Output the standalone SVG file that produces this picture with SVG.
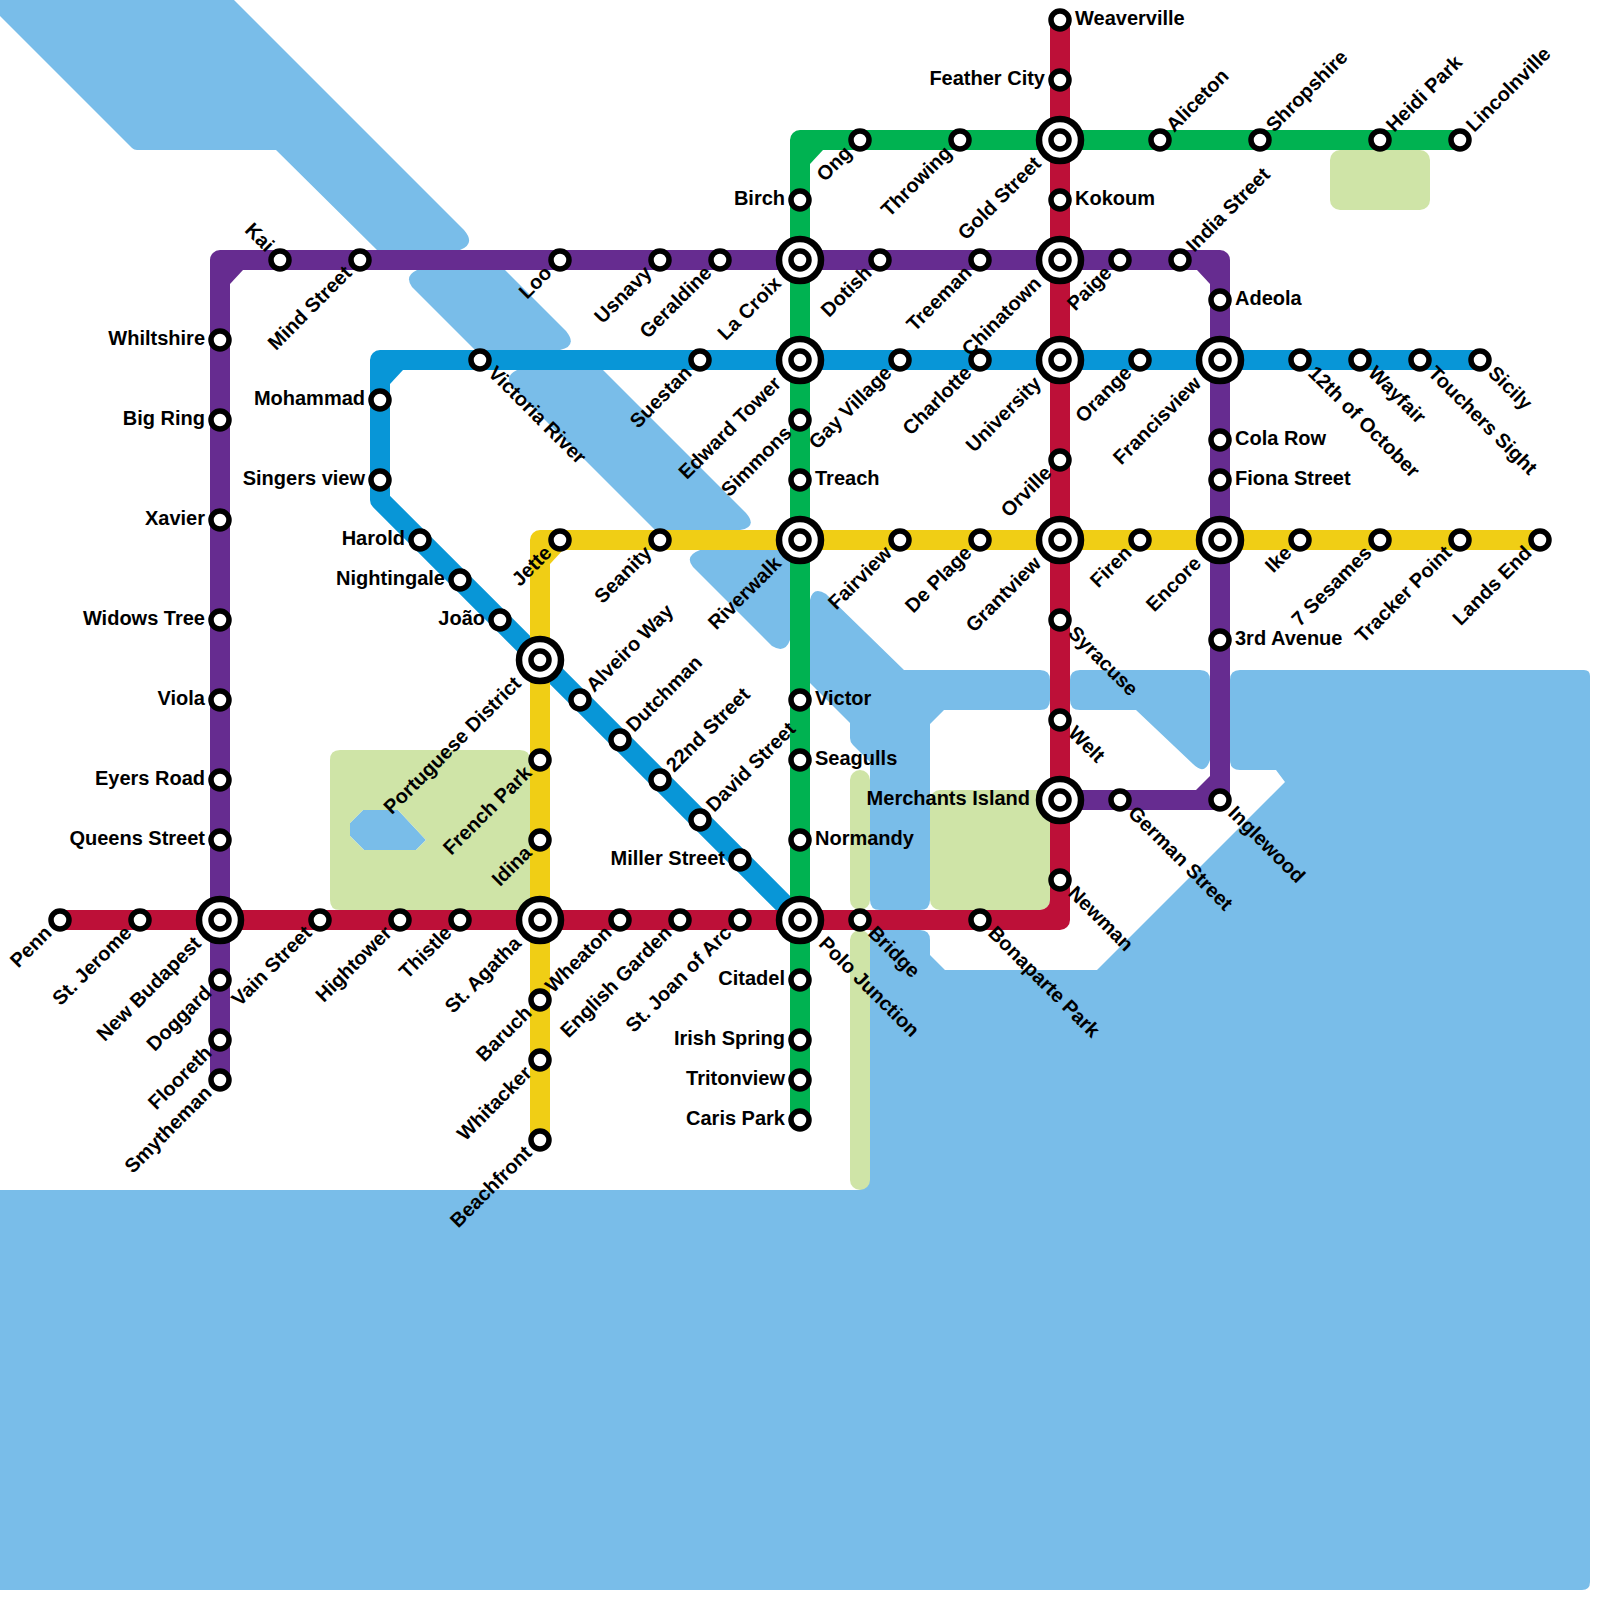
<svg xmlns="http://www.w3.org/2000/svg" width="1600" height="1600" viewBox="0 0 1600 1600">
<style>
.water{fill:#79bde9}
.park{fill:#cfe4a7}
.ln{fill:none;stroke-width:20;stroke-linejoin:round}
.s{fill:#fff;stroke:#000;stroke-width:5.5}
.i{fill:#fff;stroke:#000;stroke-width:6.5}
text{font-family:"Liberation Sans",Arial,sans-serif;font-weight:bold;font-size:20px;fill:#000}
.e{text-anchor:end}
</style>
<rect width="1600" height="1600" fill="#fff"/>
<g id="water">
<path class="water" d="M0,0 L234,0 L464,230 Q476,244 460,250 L377,250 L276,150 L137,150 Q134,150 132,148 L0,16 Z"/>
<path class="water" d="M417,270 L505,270 L566,331 Q578,346 560,350 L475,350 L412,287 Q404,276 417,270 Z"/>
<path class="water" d="M517,370 L603,370 L746,513 Q758,527 740,530 L655,530 L512,387 Q504,376 517,370 Z"/>
<path class="water" d="M700,550 L800,550 L800,650 L790,640 Q785,654 772,646 L693,567 Q684,556 700,550 Z"/>
<path class="water" d="M810,600 Q813,586 826,594 L904,670 L1040,670 Q1050,670 1050,680 L1050,700 Q1050,710 1040,710 L944,710 L930,724 L930,900 Q930,910 920,910 L880,910 Q870,910 870,900 L870,762 L853,745 Q850,742 850,738 L850,723 L810,683 Z"/>
<path class="water" d="M1080,670 L1200,670 Q1210,670 1210,680 L1210,760 Q1205,776 1193,764 L1136,710 L1080,710 Q1070,710 1070,700 L1070,680 Q1070,670 1080,670 Z"/>
<path class="water" d="M870,930 L920,930 Q930,930 930,940 L930,955 L945,970 L1097,970 L1285,782 L1276,770 L1240,770 Q1230,770 1230,760 L1230,680 Q1230,670 1240,670 L1584,670 Q1590,670 1590,676 L1590,1582 Q1590,1590 1582,1590 L0,1590 L0,1190 L860,1190 L860,1178 L870,1178 Z"/>
<path class="water" d="M363,810 L398,810 L426,840 L416,850 L364,850 L350,836 L350,823 Z"/>
</g>
<g id="parks">
<path class="park" d="M340,750 L520,750 Q530,750 530,760 L530,910 L340,910 Q330,910 330,900 L330,760 Q330,750 340,750 Z M363,810 L350,823 L350,836 L364,850 L416,850 L426,840 L398,810 Z" fill-rule="evenodd"/>
<rect class="park" x="1330" y="150" width="100" height="60" rx="10"/>
<rect class="park" x="930" y="790" width="120" height="120" rx="10"/>
<rect class="park" x="850" y="770" width="20" height="140" rx="10"/>
<rect class="park" x="850" y="930" width="20" height="260" rx="10"/>
</g>
<g id="connectors">
<path class="ln" stroke="#0896d7" d="M1480,360 L380,360 L380,500 L800,920"/>
<polygon fill="#0896d7" points="403,370 390,370 390,384"/>
<path class="ln" stroke="#00b251" d="M1460,140 L800,140 L800,1120"/>
<polygon fill="#00b251" points="823,150 810,150 810,164"/>
<path class="ln" stroke="#f0ce15" d="M1540,540 L540,540 L540,1140"/>
<polygon fill="#f0ce15" points="563,550 550,550 550,564"/>
<path class="ln" stroke="#662c90" d="M220,1080 L220,260 L1220,260 L1220,800 L1060,800"/>
<polygon fill="#662c90" points="243,270 230,270 230,284"/>
<polygon fill="#662c90" points="1197,270 1210,270 1210,284"/>
<polygon fill="#662c90" points="1196,790 1210,790 1210,776"/>
<path class="ln" stroke="#bd1038" d="M60,920 L1060,920 L1060,20"/>
<path fill="#bd1038" d="M1040,910 L1050,910 L1050,900 A10,10 0 0 1 1040,910 Z"/>
</g>
<g id="stations">
<g id="penn"><circle class="s" cx="60" cy="920" r="9"/><text class="e" x="45" y="925" transform="rotate(-45 60 920)">Penn</text></g>
<g id="st-jerome"><circle class="s" cx="140" cy="920" r="9"/><text class="e" x="125" y="925" transform="rotate(-45 140 920)">St. Jerome</text></g>
<g id="new-budapest"><circle class="i" cx="220" cy="920" r="21"/><circle class="s" cx="220" cy="920" r="9"/><text class="e" x="190" y="925" transform="rotate(-45 220 920)">New Budapest</text></g>
<g id="vain-street"><circle class="s" cx="320" cy="920" r="9"/><text class="e" x="305" y="925" transform="rotate(-45 320 920)">Vain Street</text></g>
<g id="hightower"><circle class="s" cx="400" cy="920" r="9"/><text class="e" x="385" y="925" transform="rotate(-45 400 920)">Hightower</text></g>
<g id="thistle"><circle class="s" cx="460" cy="920" r="9"/><text class="e" x="445" y="925" transform="rotate(-45 460 920)">Thistle</text></g>
<g id="st-agatha"><circle class="i" cx="540" cy="920" r="21"/><circle class="s" cx="540" cy="920" r="9"/><text class="e" x="510" y="925" transform="rotate(-45 540 920)">St. Agatha</text></g>
<g id="wheaton"><circle class="s" cx="620" cy="920" r="9"/><text class="e" x="605" y="925" transform="rotate(-45 620 920)">Wheaton</text></g>
<g id="english-garden"><circle class="s" cx="680" cy="920" r="9"/><text class="e" x="665" y="925" transform="rotate(-45 680 920)">English Garden</text></g>
<g id="st-joan"><circle class="s" cx="740" cy="920" r="9"/><text class="e" x="725" y="925" transform="rotate(-45 740 920)">St. Joan of Arc</text></g>
<g id="polo-junction"><circle class="i" cx="800" cy="920" r="21"/><circle class="s" cx="800" cy="920" r="9"/><text x="830" y="925" transform="rotate(45 800 920)">Polo Junction</text></g>
<g id="bridge"><circle class="s" cx="860" cy="920" r="9"/><text x="875" y="925" transform="rotate(45 860 920)">Bridge</text></g>
<g id="bonaparte-park"><circle class="s" cx="980" cy="920" r="9"/><text x="995" y="925" transform="rotate(45 980 920)">Bonaparte Park</text></g>
<g id="newman"><circle class="s" cx="1060" cy="880" r="9"/><text x="1075" y="885" transform="rotate(45 1060 880)">Newman</text></g>
<g id="merchants-island"><circle class="i" cx="1060" cy="800" r="21"/><circle class="s" cx="1060" cy="800" r="9"/><text class="e" x="1030" y="805">Merchants Island</text></g>
<g id="welt"><circle class="s" cx="1060" cy="720" r="9"/><text x="1075" y="725" transform="rotate(45 1060 720)">Welt</text></g>
<g id="syracuse"><circle class="s" cx="1060" cy="620" r="9"/><text x="1075" y="625" transform="rotate(45 1060 620)">Syracuse</text></g>
<g id="grantview"><circle class="i" cx="1060" cy="540" r="21"/><circle class="s" cx="1060" cy="540" r="9"/><text class="e" x="1030" y="545" transform="rotate(-45 1060 540)">Grantview</text></g>
<g id="orville"><circle class="s" cx="1060" cy="460" r="9"/><text class="e" x="1045" y="465" transform="rotate(-45 1060 460)">Orville</text></g>
<g id="university"><circle class="i" cx="1060" cy="360" r="21"/><circle class="s" cx="1060" cy="360" r="9"/><text class="e" x="1030" y="365" transform="rotate(-45 1060 360)">University</text></g>
<g id="chinatown"><circle class="i" cx="1060" cy="260" r="21"/><circle class="s" cx="1060" cy="260" r="9"/><text class="e" x="1030" y="265" transform="rotate(-45 1060 260)">Chinatown</text></g>
<g id="kokoum"><circle class="s" cx="1060" cy="200" r="9"/><text x="1075" y="205">Kokoum</text></g>
<g id="gold-street"><circle class="i" cx="1060" cy="140" r="21"/><circle class="s" cx="1060" cy="140" r="9"/><text class="e" x="1030" y="145" transform="rotate(-45 1060 140)">Gold Street</text></g>
<g id="feather-city"><circle class="s" cx="1060" cy="80" r="9"/><text class="e" x="1045" y="85">Feather City</text></g>
<g id="weaverville"><circle class="s" cx="1060" cy="20" r="9"/><text x="1075" y="25">Weaverville</text></g>

<g id="smytheman"><circle class="s" cx="220" cy="1080" r="9"/><text class="e" x="205" y="1085" transform="rotate(-45 220 1080)">Smytheman</text></g>
<g id="flooreth"><circle class="s" cx="220" cy="1040" r="9"/><text class="e" x="205" y="1045" transform="rotate(-45 220 1040)">Flooreth</text></g>
<g id="doggard"><circle class="s" cx="220" cy="980" r="9"/><text class="e" x="205" y="985" transform="rotate(-45 220 980)">Doggard</text></g>
<g id="queens-street"><circle class="s" cx="220" cy="840" r="9"/><text class="e" x="205" y="845">Queens Street</text></g>
<g id="eyers-road"><circle class="s" cx="220" cy="780" r="9"/><text class="e" x="205" y="785">Eyers Road</text></g>
<g id="viola"><circle class="s" cx="220" cy="700" r="9"/><text class="e" x="205" y="705">Viola</text></g>
<g id="widows-tree"><circle class="s" cx="220" cy="620" r="9"/><text class="e" x="205" y="625">Widows Tree</text></g>
<g id="xavier"><circle class="s" cx="220" cy="520" r="9"/><text class="e" x="205" y="525">Xavier</text></g>
<g id="big-ring"><circle class="s" cx="220" cy="420" r="9"/><text class="e" x="205" y="425">Big Ring</text></g>
<g id="whiltshire"><circle class="s" cx="220" cy="340" r="9"/><text class="e" x="205" y="345">Whiltshire</text></g>
<g id="kai"><circle class="s" cx="280" cy="260" r="9"/><text class="e" x="265" y="265" transform="rotate(45 280 260)">Kai</text></g>
<g id="mind-street"><circle class="s" cx="360" cy="260" r="9"/><text class="e" x="345" y="265" transform="rotate(-45 360 260)">Mind Street</text></g>
<g id="loo"><circle class="s" cx="560" cy="260" r="9"/><text class="e" x="545" y="265" transform="rotate(-45 560 260)">Loo</text></g>
<g id="usnavy"><circle class="s" cx="660" cy="260" r="9"/><text class="e" x="645" y="265" transform="rotate(-45 660 260)">Usnavy</text></g>
<g id="geraldine"><circle class="s" cx="720" cy="260" r="9"/><text class="e" x="705" y="265" transform="rotate(-45 720 260)">Geraldine</text></g>
<g id="la-croix"><circle class="i" cx="800" cy="260" r="21"/><circle class="s" cx="800" cy="260" r="9"/><text class="e" x="770" y="265" transform="rotate(-45 800 260)">La Croix</text></g>
<g id="dotish"><circle class="s" cx="880" cy="260" r="9"/><text class="e" x="865" y="265" transform="rotate(-45 880 260)">Dotish</text></g>
<g id="treeman"><circle class="s" cx="980" cy="260" r="9"/><text class="e" x="965" y="265" transform="rotate(-45 980 260)">Treeman</text></g>
<g id="paige"><circle class="s" cx="1120" cy="260" r="9"/><text class="e" x="1105" y="265" transform="rotate(-45 1120 260)">Paige</text></g>
<g id="india-street"><circle class="s" cx="1180" cy="260" r="9"/><text x="1195" y="265" transform="rotate(-45 1180 260)">India Street</text></g>
<g id="adeola"><circle class="s" cx="1220" cy="300" r="9"/><text x="1235" y="305">Adeola</text></g>
<g id="francisview"><circle class="i" cx="1220" cy="360" r="21"/><circle class="s" cx="1220" cy="360" r="9"/><text class="e" x="1190" y="365" transform="rotate(-45 1220 360)">Francisview</text></g>
<g id="cola-row"><circle class="s" cx="1220" cy="440" r="9"/><text x="1235" y="445">Cola Row</text></g>
<g id="fiona-street"><circle class="s" cx="1220" cy="480" r="9"/><text x="1235" y="485">Fiona Street</text></g>
<g id="encore"><circle class="i" cx="1220" cy="540" r="21"/><circle class="s" cx="1220" cy="540" r="9"/><text class="e" x="1190" y="545" transform="rotate(-45 1220 540)">Encore</text></g>
<g id="third-avenue"><circle class="s" cx="1220" cy="640" r="9"/><text x="1235" y="645">3rd Avenue</text></g>
<g id="inglewood"><circle class="s" cx="1220" cy="800" r="9"/><text x="1235" y="805" transform="rotate(45 1220 800)">Inglewood</text></g>
<g id="german-street"><circle class="s" cx="1120" cy="800" r="9"/><text x="1135" y="805" transform="rotate(45 1120 800)">German Street</text></g>

<g id="sicily"><circle class="s" cx="1480" cy="360" r="9"/><text x="1495" y="365" transform="rotate(45 1480 360)">Sicily</text></g>
<g id="touchers-sight"><circle class="s" cx="1420" cy="360" r="9"/><text x="1435" y="365" transform="rotate(45 1420 360)">Touchers Sight</text></g>
<g id="wayfair"><circle class="s" cx="1360" cy="360" r="9"/><text x="1375" y="365" transform="rotate(45 1360 360)">Wayfair</text></g>
<g id="twelfth-october"><circle class="s" cx="1300" cy="360" r="9"/><text x="1315" y="365" transform="rotate(45 1300 360)">12th of October</text></g>
<g id="orange"><circle class="s" cx="1140" cy="360" r="9"/><text class="e" x="1125" y="365" transform="rotate(-45 1140 360)">Orange</text></g>
<g id="charlotte"><circle class="s" cx="980" cy="360" r="9"/><text class="e" x="965" y="365" transform="rotate(-45 980 360)">Charlotte</text></g>
<g id="gay-village"><circle class="s" cx="900" cy="360" r="9"/><text class="e" x="885" y="365" transform="rotate(-45 900 360)">Gay Village</text></g>
<g id="edward-tower"><circle class="i" cx="800" cy="360" r="21"/><circle class="s" cx="800" cy="360" r="9"/><text class="e" x="770" y="365" transform="rotate(-45 800 360)">Edward Tower</text></g>
<g id="suestan"><circle class="s" cx="700" cy="360" r="9"/><text class="e" x="685" y="365" transform="rotate(-45 700 360)">Suestan</text></g>
<g id="victoria-river"><circle class="s" cx="480" cy="360" r="9"/><text x="495" y="365" transform="rotate(45 480 360)">Victoria River</text></g>
<g id="mohammad"><circle class="s" cx="380" cy="400" r="9"/><text class="e" x="365" y="405">Mohammad</text></g>
<g id="singers-view"><circle class="s" cx="380" cy="480" r="9"/><text class="e" x="365" y="485">Singers view</text></g>
<g id="harold"><circle class="s" cx="420" cy="540" r="9"/><text class="e" x="405" y="545">Harold</text></g>
<g id="nightingale"><circle class="s" cx="460" cy="580" r="9"/><text class="e" x="445" y="585">Nightingale</text></g>
<g id="joao"><circle class="s" cx="500" cy="620" r="9"/><text class="e" x="485" y="625">João</text></g>
<g id="portuguese-district"><circle class="i" cx="540" cy="660" r="21"/><circle class="s" cx="540" cy="660" r="9"/><text class="e" x="510" y="665" transform="rotate(-45 540 660)">Portuguese District</text></g>
<g id="alveiro-way"><circle class="s" cx="580" cy="700" r="9"/><text x="595" y="705" transform="rotate(-45 580 700)">Alveiro Way</text></g>
<g id="dutchman"><circle class="s" cx="620" cy="740" r="9"/><text x="635" y="745" transform="rotate(-45 620 740)">Dutchman</text></g>
<g id="street-22nd"><circle class="s" cx="660" cy="780" r="9"/><text x="675" y="785" transform="rotate(-45 660 780)">22nd Street</text></g>
<g id="david-street"><circle class="s" cx="700" cy="820" r="9"/><text x="715" y="825" transform="rotate(-45 700 820)">David Street</text></g>
<g id="miller-street"><circle class="s" cx="740" cy="860" r="9"/><text class="e" x="725" y="865">Miller Street</text></g>

<g id="lincolnville"><circle class="s" cx="1460" cy="140" r="9"/><text x="1475" y="145" transform="rotate(-45 1460 140)">Lincolnville</text></g>
<g id="heidi-park"><circle class="s" cx="1380" cy="140" r="9"/><text x="1395" y="145" transform="rotate(-45 1380 140)">Heidi Park</text></g>
<g id="shropshire"><circle class="s" cx="1260" cy="140" r="9"/><text x="1275" y="145" transform="rotate(-45 1260 140)">Shropshire</text></g>
<g id="aliceton"><circle class="s" cx="1160" cy="140" r="9"/><text x="1175" y="145" transform="rotate(-45 1160 140)">Aliceton</text></g>
<g id="throwing"><circle class="s" cx="960" cy="140" r="9"/><text class="e" x="945" y="145" transform="rotate(-45 960 140)">Throwing</text></g>
<g id="ong"><circle class="s" cx="860" cy="140" r="9"/><text class="e" x="845" y="145" transform="rotate(-45 860 140)">Ong</text></g>
<g id="birch"><circle class="s" cx="800" cy="200" r="9"/><text class="e" x="785" y="205">Birch</text></g>
<g id="simmons"><circle class="s" cx="800" cy="420" r="9"/><text class="e" x="785" y="425" transform="rotate(-45 800 420)">Simmons</text></g>
<g id="treach"><circle class="s" cx="800" cy="480" r="9"/><text x="815" y="485">Treach</text></g>
<g id="riverwalk"><circle class="i" cx="800" cy="540" r="21"/><circle class="s" cx="800" cy="540" r="9"/><text class="e" x="770" y="545" transform="rotate(-45 800 540)">Riverwalk</text></g>
<g id="victor"><circle class="s" cx="800" cy="700" r="9"/><text x="815" y="705">Victor</text></g>
<g id="seagulls"><circle class="s" cx="800" cy="760" r="9"/><text x="815" y="765">Seagulls</text></g>
<g id="normandy"><circle class="s" cx="800" cy="840" r="9"/><text x="815" y="845">Normandy</text></g>
<g id="citadel"><circle class="s" cx="800" cy="980" r="9"/><text class="e" x="785" y="985">Citadel</text></g>
<g id="irish-spring"><circle class="s" cx="800" cy="1040" r="9"/><text class="e" x="785" y="1045">Irish Spring</text></g>
<g id="tritonview"><circle class="s" cx="800" cy="1080" r="9"/><text class="e" x="785" y="1085">Tritonview</text></g>
<g id="caris-park"><circle class="s" cx="800" cy="1120" r="9"/><text class="e" x="785" y="1125">Caris Park</text></g>

<g id="lands-end"><circle class="s" cx="1540" cy="540" r="9"/><text class="e" x="1525" y="545" transform="rotate(-45 1540 540)">Lands End</text></g>
<g id="tracker-point"><circle class="s" cx="1460" cy="540" r="9"/><text class="e" x="1445" y="545" transform="rotate(-45 1460 540)">Tracker Point</text></g>
<g id="seven-sesames"><circle class="s" cx="1380" cy="540" r="9"/><text class="e" x="1365" y="545" transform="rotate(-45 1380 540)">7 Sesames</text></g>
<g id="ike"><circle class="s" cx="1300" cy="540" r="9"/><text class="e" x="1285" y="545" transform="rotate(-45 1300 540)">Ike</text></g>
<g id="firen"><circle class="s" cx="1140" cy="540" r="9"/><text class="e" x="1125" y="545" transform="rotate(-45 1140 540)">Firen</text></g>
<g id="de-plage"><circle class="s" cx="980" cy="540" r="9"/><text class="e" x="965" y="545" transform="rotate(-45 980 540)">De Plage</text></g>
<g id="fairview"><circle class="s" cx="900" cy="540" r="9"/><text class="e" x="885" y="545" transform="rotate(-45 900 540)">Fairview</text></g>
<g id="seanity"><circle class="s" cx="660" cy="540" r="9"/><text class="e" x="645" y="545" transform="rotate(-45 660 540)">Seanity</text></g>
<g id="jette"><circle class="s" cx="560" cy="540" r="9"/><text class="e" x="545" y="545" transform="rotate(-45 560 540)">Jette</text></g>
<g id="french-park"><circle class="s" cx="540" cy="760" r="9"/><text class="e" x="525" y="765" transform="rotate(-45 540 760)">French Park</text></g>
<g id="idina"><circle class="s" cx="540" cy="840" r="9"/><text class="e" x="525" y="845" transform="rotate(-45 540 840)">Idina</text></g>
<g id="baruch"><circle class="s" cx="540" cy="1000" r="9"/><text class="e" x="525" y="1005" transform="rotate(-45 540 1000)">Baruch</text></g>
<g id="whitacker"><circle class="s" cx="540" cy="1060" r="9"/><text class="e" x="525" y="1065" transform="rotate(-45 540 1060)">Whitacker</text></g>
<g id="beachfront"><circle class="s" cx="540" cy="1140" r="9"/><text class="e" x="525" y="1145" transform="rotate(-45 540 1140)">Beachfront</text></g>
</g>
</svg>
